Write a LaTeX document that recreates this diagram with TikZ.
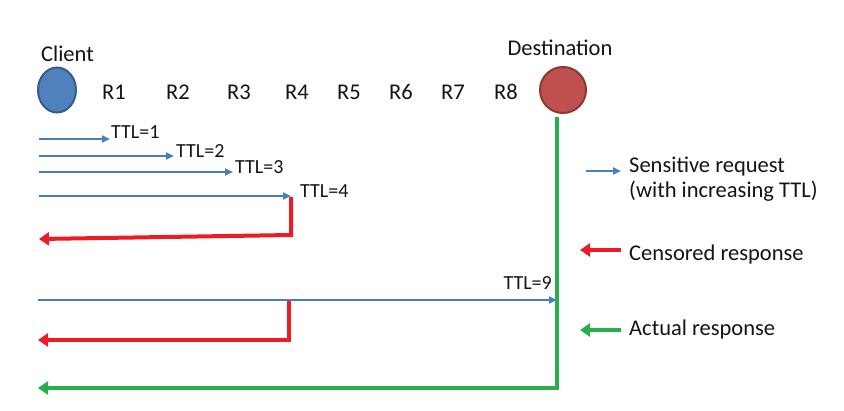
\documentclass[tikz,border=0pt]{standalone}
\usepackage{fontspec}
\setmainfont{Carlito}
\usetikzlibrary{arrows.meta,shapes.geometric}
\definecolor{reqblue}{RGB}{74,126,187}
\definecolor{clientfill}{RGB}{79,129,189}
\definecolor{clientedge}{RGB}{56,93,138}
\definecolor{destfill}{RGB}{192,80,77}
\definecolor{destedge}{RGB}{140,56,54}
\definecolor{cenred}{RGB}{237,28,36}
\definecolor{actgreen}{RGB}{40,175,75}
\definecolor{txt}{RGB}{20,20,20}
\tikzset{
  lbl/.style={font=\fontsize{22.5}{26}\selectfont, text=txt, inner sep=0pt, anchor=base},
  ttl/.style={font=\fontsize{20}{23}\selectfont, text=txt, inner sep=0pt, anchor=base west},
  req/.style={draw=reqblue, line width=2.3pt, -{Triangle[length=8pt,width=7pt]}},
  cen/.style={draw=cenred, line width=4pt, -{Triangle[length=10pt,width=13pt]}},
  act/.style={draw=actgreen, line width=3.5pt, -{Triangle[length=10pt,width=13pt]}},
}
\begin{document}
\begin{tikzpicture}[x=1pt,y=-1pt]
\useasboundingbox (0,0) rectangle (844,410);
% hosts
\node[ellipse, draw=clientedge, line width=2pt, fill=clientfill, minimum width=38pt, minimum height=45pt, inner sep=0pt] (client) at (57,90) {};
\node[circle, draw=destedge, line width=2pt, fill=destfill, minimum size=46pt, inner sep=0pt] (dest) at (563,90) {};
\node[lbl, anchor=base west] (clientlbl) at (41,61) {Client};
\node[lbl] (destlbl) at (560,55) {Destination};
\node[lbl] (r1) at (114,99) {R1};
\node[lbl] (r2) at (178,99) {R2};
\node[lbl] (r3) at (239,99) {R3};
\node[lbl] (r4) at (297,99) {R4};
\node[lbl] (r5) at (349,99) {R5};
\node[lbl] (r6) at (401,99) {R6};
\node[lbl] (r7) at (453,99) {R7};
\node[lbl] (r8) at (506,99) {R8};
% coordinates
\coordinate (s1) at (39,139); \coordinate (e1) at (110,139);
\coordinate (s2) at (39,156); \coordinate (e2) at (174,156);
\coordinate (s3) at (39,172); \coordinate (e3) at (233,172);
\coordinate (s4) at (39,196); \coordinate (e4) at (291,196);
\coordinate (s9) at (38,300); \coordinate (e9) at (557,300);
\coordinate (c1top) at (291,197); \coordinate (c1bend) at (291,235); \coordinate (c1end) at (39,239);
\coordinate (c2top) at (289,301); \coordinate (c2bend) at (289,340); \coordinate (c2end) at (38,340);
\coordinate (gtop) at (557,117); \coordinate (gbend) at (557,388); \coordinate (gend) at (38,388);
% requests
\draw[req] (s1) -- (e1);
\draw[req] (s2) -- (e2);
\draw[req] (s3) -- (e3);
\draw[req] (s4) -- (e4);
\node[ttl] (t1) at (111,138) {TTL=1};
\node[ttl] (t2) at (176,157) {TTL=2};
\node[ttl] (t3) at (235,173) {TTL=3};
\node[ttl] (t4) at (300,197) {TTL=4};
% responses
\draw[cen, line join=miter] (c1top) -- (c1bend) -- (c1end);
\draw[act, line join=miter] (gtop) -- (gbend) -- (gend);
\draw[req] (s9) -- (e9);
\draw[cen, line join=miter] (c2top) -- (c2bend) -- (c2end);
\node[ttl, anchor=base east] (t9) at (552,289) {TTL=9};
% legend
\coordinate (lb1) at (586,171); \coordinate (lb2) at (621,171);
\coordinate (lr1) at (621,250); \coordinate (lr2) at (580,250);
\coordinate (lg1) at (621,330); \coordinate (lg2) at (580,330);
\draw[req] (lb1) -- (lb2);
\draw[cen, line width=3.5pt] (lr1) -- (lr2);
\draw[act, line width=3.5pt] (lg1) -- (lg2);
\node[lbl, anchor=base west] (leg1) at (629,172) {Sensitive request};
\node[lbl, anchor=base west] (leg1b) at (629,197) {(with increasing TTL)};
\node[lbl, anchor=base west] (leg2) at (629,260) {Censored response};
\node[lbl, anchor=base west] (leg3) at (629,335) {Actual response};
\end{tikzpicture}
\end{document}
